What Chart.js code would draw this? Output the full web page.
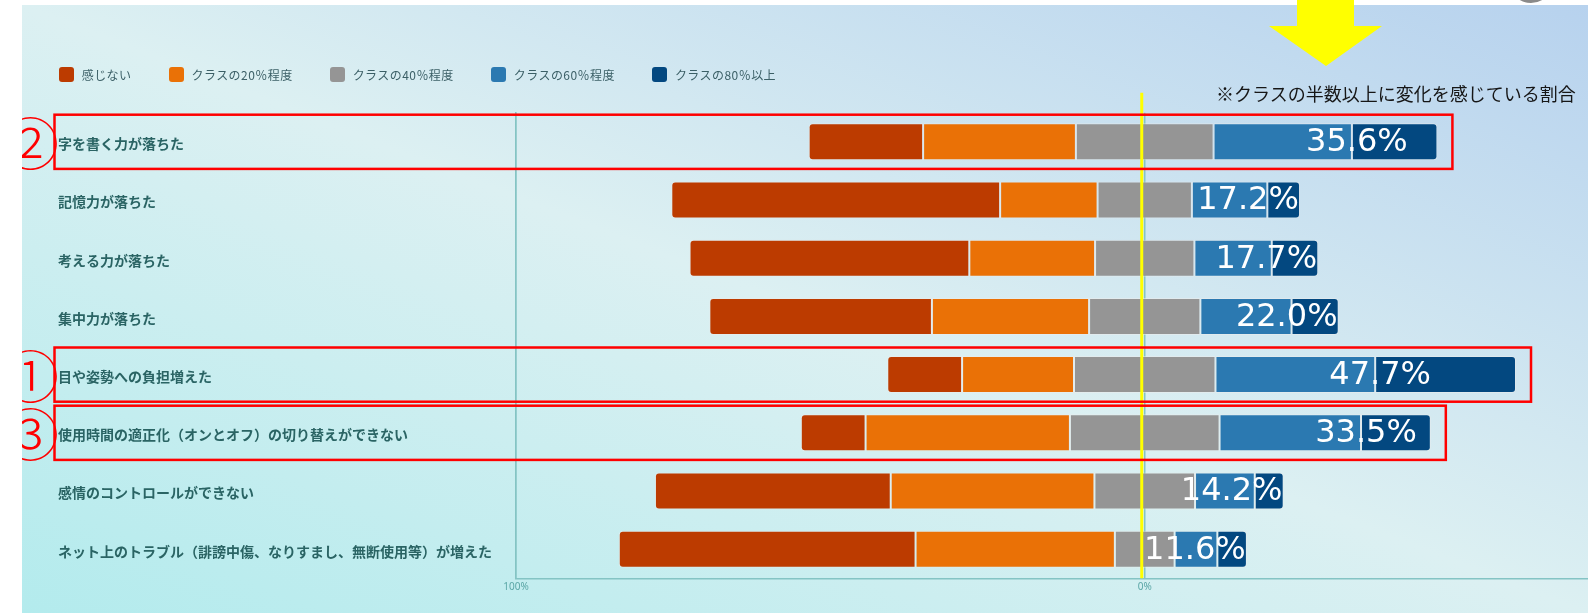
<!DOCTYPE html>
<html lang="ja">
<head>
<meta charset="utf-8">
<title>変化を感じている割合</title>
<script src="https://cdn.jsdelivr.net/npm/chart.js@4.4.1/dist/chart.umd.min.js"></script>
<style>
  html, body {
    margin: 0;
    padding: 0;
    width: 1588px;
    height: 613px;
    overflow: hidden;
    background: #fff;
    font-family: "Noto Sans CJK JP", "Noto Sans", sans-serif;
  }
  .panel {
    position: absolute;
    left: 22px;
    top: 5px;
    width: 1566px;
    height: 608px;
    background: linear-gradient(to top right, #b3ebed 0%, #dcf0f2 50%, #b7d2ee 100%);
  }
  .chart-box {
    position: absolute;
    left: 0;
    top: 0;
    width: 1566px;
    height: 608px;
  }
  .legend {
    position: absolute;
    left: 36.7px;
    top: 59.5px;
    height: 20px;
    display: flex;
    align-items: center;
    gap: 37px;
    font-size: 12px;
    letter-spacing: 0.45px;
    color: #3b5f66;
    white-space: nowrap;
  }
  .legend span.box {
    display: inline-block;
    width: 15px;
    height: 15px;
    border-radius: 3px;
    margin-right: 8px;
    vertical-align: middle;
  }
  .legend .item { display: flex; align-items: center; }
  .note {
    position: absolute;
    left: 1194px;
    top: 76px;
    font-size: 18px;
    line-height: 24px;
    color: #161616;
    white-space: nowrap;
  }
  .arrow { position: absolute; left: 0; top: 0; }
  .ring {
    position: absolute;
    left: 1509px;
    top: -41px;
    width: 38px;
    height: 38px;
    border-radius: 50%;
    border: 3px solid #8a8a8a;
  }
</style>
</head>
<body>
<div class="ring"></div>
<div class="panel">
  <div class="chart-box"><canvas id="changeChart"></canvas></div>
  <div class="legend" id="legend"></div>
  <div class="note">※クラスの半数以上に変化を感じている割合</div>
</div>
<svg class="arrow" width="1588" height="80">
  <polygon points="1297,0 1354,0 1354,26 1382,26 1326,66 1269,26 1297,26" fill="#ffff00"/>
</svg>
<script>
const categories = [
  '字を書く力が落ちた',
  '記憶力が落ちた',
  '考える力が落ちた',
  '集中力が落ちた',
  '目や姿勢への負担増えた',
  '使用時間の適正化（オンとオフ）の切り替えができない',
  '感情のコントロールができない',
  'ネット上のトラブル（誹謗中傷、なりすまし、無断使用等）が増えた'
];

const seriesNames = ['感じない', 'クラスの20％程度', 'クラスの40％程度', 'クラスの60％程度', 'クラスの80％以上'];
const seriesColors = ['#bc3b00', '#ea7106', '#959595', '#2b79b1', '#034880'];

// percentages per answer
const noFeel  = [18.2, 52.3, 44.5, 35.4, 11.9, 10.3, 37.5, 47.2];
const class20 = [24.3, 15.5, 20.0, 25.0, 17.8, 32.5, 32.4, 31.7];
const class40 = [21.9, 15.0, 15.8, 17.7, 22.5, 23.8, 16.0, 9.5];
const class60 = [22.0, 12.0, 12.3, 14.5, 25.4, 22.5, 9.5, 6.8];
const class80 = [13.6, 5.2, 7.4, 7.5, 22.4, 11.1, 4.6, 4.7];

// "half of the class or more" figures printed on the bars
const halfOrMore = [35.6, 17.2, 17.7, 22.0, 47.7, 33.5, 14.2, 11.6];

const xTicks = [-100, 0];

// rows boxed in red, with their marks
const highlights = [
  { row: 0, mark: '②' },
  { row: 4, mark: '①' },
  { row: 5, mark: '③' }
];

// the 40% segment straddles zero, the rest stack outwards from it
function buildSegments() {
  const segs = [[], [], [], [], []];
  categories.forEach((_, i) => {
    const s40 = -class40[i] / 2;
    const e40 = class40[i] / 2;
    const s20 = s40 - class20[i];
    const s0 = s20 - noFeel[i];
    const e60 = e40 + class60[i];
    const e80 = e60 + class80[i];
    segs[0].push([s0, s20]);
    segs[1].push([s20, s40]);
    segs[2].push([s40, e40]);
    segs[3].push([e40, e60]);
    segs[4].push([e60, e80]);
  });
  return segs;
}

const segments = buildSegments();
const radii = [
  { topLeft: 4, bottomLeft: 4, topRight: 0, bottomRight: 0 },
  0, 0, 0,
  { topLeft: 0, bottomLeft: 0, topRight: 4, bottomRight: 4 }
];

const overlayPlugin = {
  id: 'overlay',
  afterDatasetsDraw(chart) {
    const { ctx, chartArea, scales: { x, y } } = chart;
    const midMeta = chart.getDatasetMeta(3);
    const endMeta = chart.getDatasetMeta(4);
    ctx.save();

    // yellow marker next to zero
    const zx = x.getPixelForValue(0) - 3;
    ctx.strokeStyle = '#ffff00';
    ctx.lineWidth = 3;
    ctx.beginPath();
    ctx.moveTo(zx, chartArea.top - 20);
    ctx.lineTo(zx, chartArea.bottom);
    ctx.stroke();

    // values on the bars, kept inside the bar end
    ctx.fillStyle = '#ffffff';
    ctx.font = '32px "DejaVu Sans"';
    ctx.textAlign = 'center';
    ctx.textBaseline = 'middle';
    halfOrMore.forEach((v, i) => {
      const bar = midMeta.data[i];
      const end = endMeta.data[i].x;
      const cx = Math.min(bar.x + 5, end - 52);
      ctx.fillText(v.toFixed(1) + '%', cx, bar.y + 1);
    });

    // red boxes
    const band = y.getPixelForValue(1) - y.getPixelForValue(0);
    highlights.forEach(h => {
      const cy = y.getPixelForValue(h.row);
      const left = y.left - 3.5;
      const right = endMeta.data[h.row].x + 15;
      ctx.strokeStyle = '#ff0000';
      ctx.lineWidth = 2.5;
      ctx.strokeRect(left, cy - band / 2 + 2, right - left, band - 4);
      ctx.fillStyle = '#ff0000';
      ctx.font = '300 57px "Noto Sans CJK JP"';
      ctx.fillText(h.mark, left - 24, cy + 2);
    });
    ctx.restore();
  }
};

function buildLegend() {
  const el = document.getElementById('legend');
  el.innerHTML = seriesNames.map((name, i) =>
    `<div class="item"><span class="box" style="background:${seriesColors[i]}"></span>${name}</div>`
  ).join('');
}

function renderChart() {
  const ctx = document.getElementById('changeChart');
  new Chart(ctx, {
    type: 'bar',
    data: {
      labels: categories,
      datasets: seriesNames.map((name, i) => ({
        label: name,
        data: segments[i],
        backgroundColor: seriesColors[i],
        borderColor: 'rgba(235, 235, 235, 0.55)',
        borderWidth: 1,
        borderSkipped: false,
        borderRadius: radii[i],
        grouped: false,
        categoryPercentage: 1,
        barPercentage: 0.636
      }))
    },
    options: {
      indexAxis: 'y',
      responsive: true,
      maintainAspectRatio: false,
      animation: false,
      layout: { padding: { left: 36, top: 107.7, right: 0, bottom: 0 } },
      plugins: {
        legend: { display: false },
        tooltip: { enabled: false }
      },
      scales: {
        x: {
          min: -100,
          max: 70.5,
          afterBuildTicks: axis => { axis.ticks = xTicks.map(v => ({ value: v })); },
          afterFit: scale => { scale.height = 34.7; },
          grid: { color: '#84c4c4', lineWidth: 1.5, drawTicks: false },
          border: { color: '#84c4c4', width: 1.5 },
          ticks: {
            padding: 3,
            color: '#5aa6a6',
            font: { size: 10, family: '"Noto Sans", sans-serif' },
            callback: v => Math.abs(v) + '%'
          }
        },
        y: {
          afterFit: scale => { scale.width = 458; },
          grid: { display: false },
          border: { color: '#84c4c4', width: 1.5 },
          ticks: {
            crossAlign: 'far',
            labelOffset: 2,
            color: '#2a6464',
            font: { size: 14, weight: 'bold', family: '"Noto Sans CJK JP", sans-serif' }
          }
        }
      }
    },
    plugins: [overlayPlugin]
  });
}

buildLegend();
renderChart();
</script>
</body>
</html>
